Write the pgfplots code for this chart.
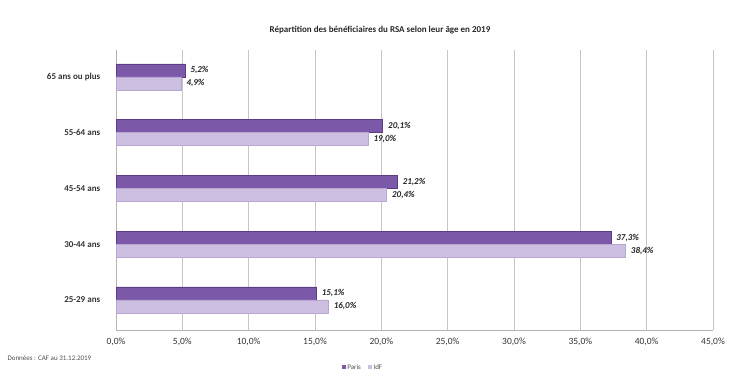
\documentclass[border=0pt]{standalone}
\usepackage{pgfplots}
\usepackage{pgfplotstable}
\pgfplotsset{compat=1.18}
\usepackage{fontspec}
\setmainfont{Carlito}
\definecolor{paris}{HTML}{7B58A8}
\definecolor{parisd}{HTML}{5C3D86}
\definecolor{idf}{HTML}{CDBFE2}
\definecolor{idfd}{HTML}{B7A6CF}
\pgfplotstableread{
y val
0 15.1
1 37.3
2 21.2
3 20.1
4 5.2
}\paris
\pgfplotstableread{
y val
0 16.0
1 38.4
2 20.4
3 19.0
4 4.9
}\idf
\begin{document}
\begin{tikzpicture}
\path[use as bounding box] (0,0) rectangle (734pt,376pt);
\begin{axis}[
  at={(116pt,46pt)}, anchor=south west,
  scale only axis, width=597pt, height=280pt,
  xbar, bar width=13pt,
  xmin=0, xmax=45, ymin=-0.54, ymax=4.48,
  xtick={0,5,...,45},
  xticklabel={\pgfmathprintnumber[fixed,fixed zerofill,precision=1,use comma]{\tick}\%},
  /pgf/number format/assume math mode=true,
  ytick={0,1,2,3,4},
  yticklabels={25-29 ans,30-44 ans,45-54 ans,55-64 ans,65 ans ou plus},
  y tick label style={font=\fontsize{9}{10}\selectfont\bfseries, text=black!80, xshift=-8pt},
  x tick label style={font=\fontsize{9.5}{11}\selectfont, text=black!80, yshift=-4pt},
  tick style={draw=none},
  xmajorgrids, grid style={gray!45, line width=0.6pt},
  axis line style={gray!60},
  axis x line*=bottom, axis y line*=left,
  nodes near coords={\pgfmathprintnumber[fixed,fixed zerofill,precision=1,use comma]{\pgfplotspointmeta}\%},
  nodes near coords style={font=\fontsize{9}{10}\selectfont\bfseries\itshape, text=black!85, anchor=west, xshift=2pt},
  point meta=x,
  clip=false,
]
\addplot[fill=paris, draw=parisd, bar shift=6.5pt] table[x=val,y=y] {\paris};
\addplot[fill=idf, draw=idfd, bar shift=-6.5pt] table[x=val,y=y] {\idf};
\end{axis}
\node[font=\fontsize{9}{10}\selectfont\bfseries, text=black!85] at (380pt,346pt) {Répartition des bénéficiaires du RSA selon leur âge en 2019};
\node[font=\fontsize{7}{8}\selectfont, text=black!70, anchor=west] at (4pt,18pt) {Données : CAF au 31.12.2019};
\node[font=\fontsize{7}{8}\selectfont, text=black!70] at (362pt,9pt) {\textcolor{paris}{\rule{4pt}{4pt}}~Paris\quad\textcolor{idf}{\rule{4pt}{4pt}}~IdF};
\end{tikzpicture}
\end{document}
